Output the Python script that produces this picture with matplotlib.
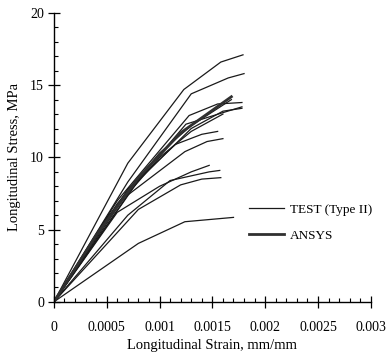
import numpy as np
import matplotlib
matplotlib.use('Agg')
import matplotlib.pyplot as plt
from matplotlib.ticker import MultipleLocator

plt.rcParams['font.family'] = ['Liberation Serif', 'DejaVu Serif']

# test curves (strain, stress)
test_strain = [
    [0, 0.0007, 0.00123, 0.00158, 0.00179],
    [0, 0.0007, 0.0013, 0.00165, 0.0018],
    [0, 0.0006, 0.00128, 0.00155, 0.00178],
    [0, 0.0007, 0.00125, 0.0016, 0.00178],
    [0, 0.0008, 0.0013, 0.0016, 0.00178],
    [0, 0.0007, 0.00115, 0.0014, 0.00155],
    [0, 0.0007, 0.00124, 0.00145, 0.0016],
    [0, 0.0006, 0.001, 0.0013, 0.00147],
    [0, 0.0007, 0.0011, 0.00147, 0.00157],
    [0, 0.0008, 0.0012, 0.0014, 0.00158],
    [0, 0.0008, 0.00124, 0.0017],
    [0, 0.0006, 0.001, 0.0013, 0.00168],
    [0, 0.0005, 0.001, 0.0013, 0.0016],
]
test_stress = [
    [0, 9.6, 14.7, 16.6, 17.1],
    [0, 8.3, 14.4, 15.5, 15.8],
    [0, 7.0, 12.9, 13.7, 13.8],
    [0, 7.6, 12.3, 13.1, 13.5],
    [0, 8.4, 12.0, 13.2, 13.4],
    [0, 7.8, 10.9, 11.6, 11.8],
    [0, 7.4, 10.4, 11.1, 11.3],
    [0, 6.2, 8.0, 9.0, 9.45],
    [0, 6.0, 8.4, 9.0, 9.1],
    [0, 6.4, 8.1, 8.5, 8.6],
    [0, 4.05, 5.55, 5.85],
    [0, 6.8, 10.3, 12.2, 14.0],
    [0, 5.8, 10.0, 11.8, 13.0],
]
ansys_strain = [0, 0.0004, 0.0008, 0.0012, 0.00168]
ansys_stress = [0, 4.6, 8.6, 11.7, 14.2]

xticks = [0, 0.0005, 0.001, 0.0015, 0.002, 0.0025, 0.003]
xticklabels = ['0', '0.0005', '0.001', '0.0015', '0.002', '0.0025', '0.003']
yticks = [0, 5, 10, 15, 20]

fig = plt.figure(figsize=(3.9, 3.59), dpi=100)
ax = fig.add_axes([0.138, 0.159, 0.813, 0.805])

for i, (s, t) in enumerate(zip(test_strain, test_stress)):
    ax.plot(s, t, color='#1a1a1a', lw=0.9, label='TEST (Type II)' if i == 0 else None)
ax.plot(ansys_strain, ansys_stress, color='#303030', lw=2.0, label='ANSYS')

ax.set_xlim(0, 0.003)
ax.set_ylim(0, 20)
ax.set_xticks(xticks)
ax.set_xticklabels(xticklabels)
ax.set_yticks(yticks)
ax.xaxis.set_minor_locator(MultipleLocator(0.0001))
ax.yaxis.set_minor_locator(MultipleLocator(1))
ax.tick_params(which='major', direction='inout', length=8, width=0.9, labelsize=10)
ax.tick_params(axis='x', which='major', pad=10)
ax.tick_params(axis='y', which='major', pad=3)
ax.tick_params(which='minor', direction='in', length=3, width=0.8)

for side in ['top', 'right']:
    ax.spines[side].set_visible(False)
ax.spines['left'].set_linewidth(1.0)
ax.spines['bottom'].set_linewidth(1.0)

ax.set_xlabel('Longitudinal Strain, mm/mm', fontsize=10.5, labelpad=3)
ax.set_ylabel('Longitudinal Stress, MPa', fontsize=10.5, labelpad=7)

ax.legend(loc='center left', bbox_to_anchor=(0.615, 0.275), frameon=False,
          fontsize=9.5, handlelength=2.7, handletextpad=0.4, labelspacing=1.05,
          borderpad=0, borderaxespad=0)

fig.savefig('out.png', dpi=100)
